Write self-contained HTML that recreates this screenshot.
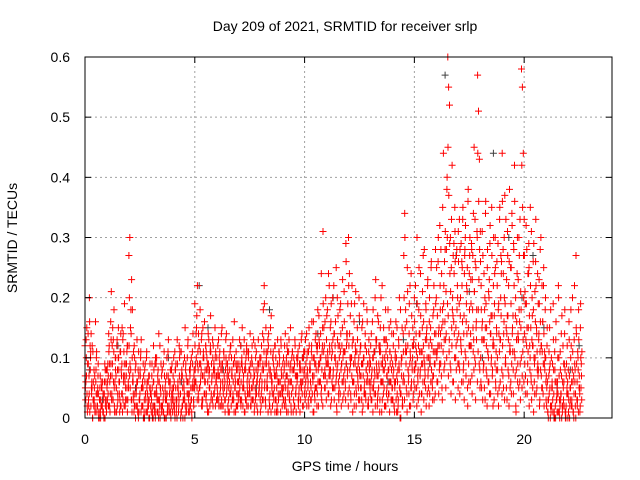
<!DOCTYPE html>
<html><head><meta charset="utf-8"><style>
body{margin:0;background:#fff}
svg{display:block;font-family:"Liberation Sans",sans-serif}
</style></head><body>
<svg id="chart" width="640" height="480">
<rect width="640" height="480" fill="#fff"/>
<g id="grid"></g>
<g id="marks"></g>
<rect x="85" y="57" width="527" height="361" fill="none" stroke="#000" stroke-width="1"/>
<g id="axes"></g>
<text x="345" y="31" font-size="14" text-anchor="middle">Day 209 of 2021, SRMTID for receiver srlp</text>
<text x="345" y="471" font-size="14" text-anchor="middle">GPS time / hours</text>
<text x="17" y="238" font-size="14" text-anchor="middle" transform="rotate(-90 17 238)">SRMTID / TECUs</text>
</svg>
<script>
const xTicks=[0,5,10,15,20];
const yTicks=[0,0.1,0.2,0.3,0.4,0.5,0.6];
const yTickLabels=["0","0.1","0.2","0.3","0.4","0.5","0.6"];
const sampleStepHours=0.04;
const seriesA=[12,6,15,9,3,20,8,14,5,11,2,7,16,10,4,9,1,5,3,2,6,1,4,8,3,
5,9,14,2,7,21,12,3,18,6,10,1,8,15,4,11,2,9,13,6,19,3,7,12,5,
27,30,8,23,18,4,12,2,9,6,1,11,3,7,13,2,5,0,8,4,10,1,6,3,9,
2,7,1,12,4,0,9,3,6,14,2,5,1,8,3,11,0,4,7,2,13,1,6,3,9,
4,10,2,8,1,13,5,3,11,0,7,2,9,4,15,1,6,12,3,8,2,10,5,14,7,
19,9,15,22,4,12,18,7,14,3,10,16,6,11,2,8,13,5,17,9,3,12,7,15,6,
10,4,13,7,2,9,15,5,11,3,8,14,6,1,10,4,12,7,3,9,16,5,11,2,8,
6,13,3,9,15,5,11,1,8,12,4,10,6,14,2,9,5,13,7,3,11,6,8,4,10,
7,12,3,18,22,9,15,5,11,14,2,8,17,6,10,3,12,7,1,9,4,11,6,13,5,
4,10,2,14,7,12,5,9,3,15,6,11,1,8,13,4,10,7,2,12,9,5,14,6,11,
8,13,4,11,6,15,9,3,12,7,16,10,5,14,2,18,9,12,6,24,11,31,15,8,20,
13,18,9,22,7,16,12,20,5,14,10,25,8,17,3,12,19,9,15,6,21,11,29,14,8,
30,24,17,10,22,13,6,19,11,4,15,9,20,7,12,3,16,10,5,14,8,18,2,11,6,
9,14,5,18,11,7,23,13,3,16,8,12,20,6,10,15,2,9,13,7,18,4,11,16,8,
5,12,2,10,16,7,1,13,20,4,9,15,6,27,34,18,11,25,8,14,22,5,17,10,12,
20,9,14,30,6,18,11,24,4,15,27,10,8,19,13,22,5,16,9,25,12,7,18,14,28,
20,11,26,15,32,9,24,18,44,13,28,21,38,60,55,52,30,25,42,17,29,35,10,27,22,
31,19,28,12,26,33,9,24,30,16,21,36,6,27,14,29,23,11,45,33,25,18,57,51,43,
31,22,15,27,9,18,34,12,25,6,20,29,14,35,8,22,17,30,11,26,4,19,33,13,24,
44,28,16,37,9,23,31,13,26,5,19,34,11,29,42,17,8,24,14,30,6,21,58,55,44,
33,21,13,28,9,24,17,35,6,20,12,29,4,26,15,8,19,23,11,30,5,16,22,9,18,
3,12,1,7,15,2,10,5,19,0,8,13,3,6,22,1,11,4,17,2,9,14,0,7,12,
4,16,2,10,6,20,1,13,8,27,3,11,18,5,15,9];
const seriesB=[5,10,2,14,7,1,11,4,0,6,3,2,8,1,5,0,3,1,6,2,4,0,9,3,1,
3,7,12,1,9,4,15,6,2,10,5,13,3,8,1,11,7,4,14,2,6,9,3,12,5,
20,5,14,1,7,3,10,0,5,2,8,1,4,11,2,6,0,3,9,1,5,2,7,0,4,
1,5,0,8,2,4,10,1,3,6,0,9,2,5,1,7,3,0,4,11,2,6,1,8,3,
2,6,0,9,3,5,1,7,4,11,2,0,6,3,8,1,10,4,2,7,5,1,9,3,6,
8,14,5,11,3,9,6,13,2,10,7,4,12,8,1,9,5,11,3,7,10,4,8,2,6,
5,8,2,11,6,3,9,4,7,1,10,5,8,3,6,12,2,7,4,9,5,1,8,6,3,
4,8,2,10,5,7,1,9,3,6,11,4,8,2,5,9,3,7,12,4,6,1,9,5,3,
2,6,9,13,5,3,10,7,1,8,4,11,6,2,9,5,12,3,7,1,6,10,4,8,2,
7,3,9,5,1,11,6,4,8,2,10,5,3,9,7,1,6,11,4,8,3,5,10,2,7,
5,9,2,7,11,4,8,3,10,6,1,9,5,12,4,8,13,6,10,3,15,7,12,5,9,
6,10,4,12,8,3,11,7,14,5,9,2,13,6,10,4,8,12,3,7,11,5,9,14,4,
12,8,4,10,6,13,2,9,5,11,7,3,8,12,5,9,2,10,6,4,11,7,3,9,5,
6,3,10,5,8,2,12,7,4,9,1,11,6,3,8,5,13,2,7,10,4,6,9,3,5,
3,8,1,6,10,4,2,9,5,0,7,3,11,6,15,9,4,12,7,2,10,5,8,3,6,
8,12,5,10,3,14,7,11,4,9,16,6,13,2,10,7,12,4,15,8,5,11,3,9,14,
10,6,14,8,18,12,5,16,22,9,13,28,30,17,11,24,8,15,20,6,14,26,12,18,9,
14,8,20,11,25,6,17,28,10,22,5,15,24,12,19,7,27,13,21,9,16,30,11,23,8,
10,5,16,8,13,3,19,7,11,21,4,14,9,17,2,12,24,6,15,10,18,5,13,27,8,
12,5,20,9,15,3,17,7,11,25,4,14,8,22,10,2,16,6,13,27,9,18,5,11,20,
14,7,19,4,11,25,8,15,3,12,18,6,10,22,5,9,13,2,16,7,11,4,14,8,10,
2,6,0,4,9,1,5,3,8,0,2,6,1,4,10,0,3,7,1,5,2,8,0,4,6,
1,7,3,12,2,6,0,9,4,14,2,8,5,1,10,3];
const seriesC=[7,13,4,9,2,16,10,5,12,3,8,1,6,11,2,4,0,7,2,5,1,3,6,2,8,
8,4,11,6,16,3,9,13,5,1,7,12,4,10,6,2,8,15,3,11,7,5,9,1,6,
12,9,18,3,6,11,2,8,4,13,1,7,3,10,5,2,9,1,6,3,11,4,2,7,5,
4,9,2,6,1,10,5,3,8,1,12,4,7,2,9,0,5,3,10,1,6,4,8,2,5,
7,3,11,5,2,9,4,12,6,1,8,5,3,10,2,7,4,13,6,1,9,3,11,5,8,
12,6,17,9,14,5,11,8,3,15,10,6,12,4,9,14,7,2,11,6,13,8,4,10,7,
7,12,3,9,5,14,8,2,10,6,13,4,9,7,1,11,5,8,13,3,10,6,2,9,4,
9,5,12,3,8,6,13,4,10,2,7,11,5,9,3,12,6,8,2,10,4,7,13,5,9,
10,5,14,8,19,3,11,6,13,9,2,15,7,4,11,8,1,10,5,13,3,9,6,12,4,
9,5,12,3,10,7,1,13,6,9,4,11,8,2,12,5,7,10,3,9,6,13,4,8,11,
11,6,14,8,3,12,9,5,16,7,10,4,13,8,11,6,17,9,14,5,12,19,7,16,10,
17,11,24,8,15,19,6,13,22,10,16,7,20,12,5,18,14,9,23,11,16,6,26,13,19,
22,14,9,19,12,6,16,10,21,8,13,5,17,11,7,15,9,19,4,12,8,16,6,13,10,
12,7,16,10,4,20,13,8,17,5,11,15,9,22,6,13,10,18,4,12,8,15,11,6,14,
9,14,6,11,3,15,8,12,5,18,10,2,14,20,30,12,16,21,6,19,11,24,9,15,13,
16,22,11,19,8,25,14,17,9,21,12,28,7,18,15,23,10,20,13,26,6,17,22,11,19,
25,17,30,12,22,28,15,35,19,26,31,14,40,45,37,29,21,33,18,27,24,31,15,28,20,
26,33,17,29,22,35,14,27,32,19,25,38,12,30,23,28,18,34,21,26,15,31,44,36,28,
26,18,31,13,24,20,36,15,28,10,23,32,17,27,12,30,19,25,8,22,29,14,35,20,26,
36,24,30,19,33,14,27,22,38,11,25,32,17,28,36,20,13,30,23,18,33,15,42,35,27,
27,19,32,15,24,29,12,22,31,17,26,10,21,33,14,24,8,19,28,12,22,16,25,11,20,
7,15,3,11,5,18,2,9,13,1,6,16,4,10,20,3,8,14,2,12,6,18,1,9,4,
8,13,5,18,3,11,7,22,2,15,6,10,13,4,19,7];
const seriesD=[3,7,1,9,4,12,2,6,0,3,5,1,4,2,7,1,3,0,5,2,1,4,0,6,2,
6,2,9,4,13,7,3,11,1,8,5,2,10,6,3,14,4,1,7,9,2,5,11,3,8,
7,15,3,10,6,1,4,9,2,6,0,3,8,1,5,2,7,0,4,1,6,3,0,5,2,
3,0,6,2,9,1,4,7,0,3,5,2,8,1,4,0,6,3,1,7,2,5,0,4,1,
5,1,8,3,0,6,2,10,4,1,7,3,5,0,9,2,6,1,4,8,3,0,6,2,5,
6,10,3,8,12,5,9,2,7,11,4,8,3,10,6,1,8,12,4,7,2,9,5,11,3,
3,7,10,4,8,2,6,11,5,3,9,7,2,5,8,4,10,3,6,1,7,9,4,2,6,
7,3,6,9,2,5,8,3,11,5,2,8,4,7,10,3,6,1,5,8,2,9,4,6,1,
4,8,3,11,6,2,9,5,12,3,7,1,5,10,4,7,3,8,2,6,11,4,1,7,5,
3,8,6,2,9,4,11,3,6,1,8,5,10,2,4,7,9,3,5,1,8,6,2,10,4,
3,7,10,5,2,8,6,11,4,1,7,3,9,5,12,2,6,10,4,8,2,11,5,7,3,
9,4,7,11,2,10,5,8,3,12,6,1,9,4,7,11,2,6,10,4,8,3,12,7,2,
5,10,3,7,1,9,4,12,2,8,6,10,3,5,9,1,7,4,12,3,6,9,2,8,4,
3,8,1,6,11,4,9,2,7,12,3,6,1,9,4,8,2,11,5,3,8,1,6,10,3,
7,2,5,9,1,6,3,8,0,4,10,2,7,3,11,5,1,8,4,9,2,6,12,4,8,
5,9,2,7,12,4,8,1,11,6,3,9,5,14,4,8,2,10,6,12,3,7,9,4,11,
6,12,4,9,14,7,3,11,8,16,5,10,19,7,13,9,4,12,6,16,10,3,8,13,5,
9,4,13,6,16,8,3,11,7,14,2,9,18,6,12,4,15,8,10,3,13,6,18,9,5,
6,13,3,9,5,15,8,2,11,6,16,4,10,7,13,3,9,5,14,8,2,11,6,17,4,
7,14,3,10,5,17,8,2,12,6,9,15,4,11,7,1,13,9,5,16,3,10,7,13,6,
9,4,12,6,15,2,10,7,13,5,1,9,16,4,11,7,14,3,8,12,5,9,2,10,6,
5,1,3,8,0,2,6,1,4,11,0,3,5,1,7,2,4,0,6,3,9,1,2,5,0,
3,0,5,2,8,1,4,6,0,9,3,1,7,2,5,11];
const grayTimes=[0.2,0.8,1.5,2.3,3.1,3.8,4.4,5.2,5.6,6.3,7.1,7.8,8.4,9.2,9.9,10.6,11.3,11.9,12.5,13.2,13.8,14.5,15.1,15.7,16.4,16.9,17.5,18.1,18.6,19.3,19.9,20.4,20.9,21.5,22.1,22.5];
const grayValues=[0.08,0.03,0.12,0.05,0.02,0.1,0.06,0.22,0.15,0.08,0.12,0.05,0.18,0.07,0.1,0.14,0.2,0.09,0.16,0.11,0.06,0.13,0.19,0.09,0.57,0.27,0.21,0.1,0.44,0.3,0.2,0.27,0.15,0.05,0.08,0.12];

const X0=85,X1=612,Y0=418,Y1=57;
const xs=t=>X0+(t/24)*(X1-X0);
const ys=v=>Y0-(v/0.6)*(Y0-Y1);
const NS='http://www.w3.org/2000/svg';
const grid=document.getElementById('grid'),axes=document.getElementById('axes'),marks=document.getElementById('marks');
function mk(tag,attrs,parent){const e=document.createElementNS(NS,tag);for(const k in attrs)e.setAttribute(k,attrs[k]);parent.appendChild(e);return e;}
xTicks.forEach(t=>{
  const x=xs(t);
  if(t>0){const g=mk('line',{x1:x,x2:x,y1:Y0,y2:Y1,stroke:'#a0a0a0','stroke-dasharray':'2,3'},grid);
  
  }
  mk('line',{x1:x,x2:x,y1:Y0,y2:Y0-6,stroke:'#000'},axes);
  mk('line',{x1:x,x2:x,y1:Y1,y2:Y1+6,stroke:'#000'},axes);
  const l=mk('text',{x:x,y:Y0+26,'font-size':14,'text-anchor':'middle'},axes);l.textContent=t;
  
  
});
yTicks.forEach((v,i)=>{
  const y=ys(v);
  if(v>0&&v<0.6){const g=mk('line',{x1:X0,x2:X1,y1:y,y2:y,stroke:'#a0a0a0','stroke-dasharray':'2,3'},grid);
  
  }
  mk('line',{x1:X0,x2:X0+6,y1:y,y2:y,stroke:'#000'},axes);
  mk('line',{x1:X1,x2:X1-6,y1:y,y2:y,stroke:'#000'},axes);
  const l=mk('text',{x:70,y:y+5,'font-size':14,'text-anchor':'end'},axes);l.textContent=yTickLabels[i];
  
  
});
function plus(x,y){return `M${(x-3.5).toFixed(1)} ${y.toFixed(1)}h7M${x.toFixed(1)} ${(y-3.5).toFixed(1)}v7`;}
let dg='';grayTimes.forEach((t,i)=>{dg+=plus(xs(t),ys(grayValues[i]));});
let dr='';
seriesA.forEach((v,i)=>{dr+=plus(xs(i*sampleStepHours),ys(v/100));});
seriesB.forEach((v,i)=>{dr+=plus(xs(i*sampleStepHours+0.02),ys(v/100));});
seriesC.forEach((v,i)=>{dr+=plus(xs(i*sampleStepHours+0.01),ys(v/100));});
seriesD.forEach((v,i)=>{dr+=plus(xs(i*sampleStepHours+0.03),ys(v/100));});
const pg=mk('path',{d:dg,stroke:'#404040','stroke-width':1,fill:'none'},marks);


const pr=mk('path',{d:dr,stroke:'#ff0000','stroke-width':1,fill:'none'},marks);


</script>
</body></html>
